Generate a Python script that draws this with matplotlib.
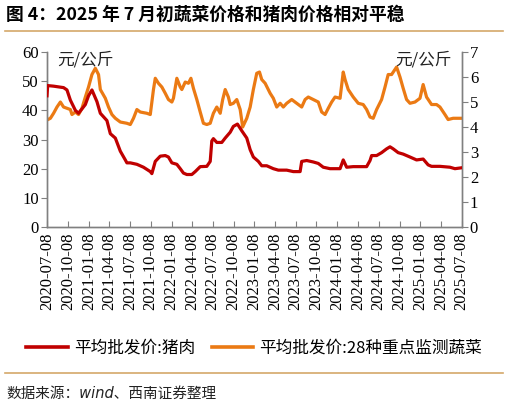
import matplotlib
matplotlib.use("Agg")
import matplotlib.pyplot as plt
import matplotlib.dates as mdates
import pandas as pd
from matplotlib.lines import Line2D

plt.rcParams['font.family'] = ['Liberation Serif', 'Noto Sans CJK SC', 'DejaVu Sans']

title = "图 4：2025 年 7 月初蔬菜价格和猪肉价格相对平稳"
source = "数据来源：wind、西南证券整理"
unit = "元/公斤"
pork_label = "平均批发价:猪肉"
veg_label = "平均批发价:28种重点监测蔬菜"

pork_dates = ["2020-07-08", "2020-07-11", "2020-08-06", "2020-09-19", "2020-10-04", "2020-10-19",
              "2020-11-10", "2020-11-24", "2020-12-09", "2020-12-24", "2021-01-07", "2021-01-22",
              "2021-02-13", "2021-02-28", "2021-03-29", "2021-04-13", "2021-05-05", "2021-05-27",
              "2021-06-18", "2021-06-25", "2021-07-10", "2021-08-08", "2021-09-06", "2021-10-06",
              "2021-10-13", "2021-10-28", "2021-11-19", "2021-12-11", "2021-12-25", "2022-01-09",
              "2022-01-31", "2022-02-15", "2022-03-01", "2022-03-16", "2022-04-07", "2022-04-22",
              "2022-05-14", "2022-06-12", "2022-06-27", "2022-07-04", "2022-07-11", "2022-07-26",
              "2022-08-17", "2022-09-01", "2022-09-23", "2022-10-07", "2022-10-25", "2022-11-13",
              "2022-12-05", "2022-12-20", "2023-01-03", "2023-01-25", "2023-02-09", "2023-03-03",
              "2023-04-01", "2023-04-23", "2023-05-30", "2023-06-28", "2023-07-28", "2023-08-04",
              "2023-08-26", "2023-09-24", "2023-10-16", "2023-11-07", "2023-12-07", "2024-01-20",
              "2024-02-03", "2024-02-18", "2024-03-18", "2024-05-16", "2024-05-31", "2024-06-07",
              "2024-06-29", "2024-07-21", "2024-08-12", "2024-08-27", "2024-09-10", "2024-10-02",
              "2024-10-24", "2024-11-23", "2024-12-22", "2025-01-20", "2025-02-11", "2025-02-26",
              "2025-04-04", "2025-05-18", "2025-06-09", "2025-07-08"]
pork_values = [45, 48.5, 48.3, 47.8, 47, 43.5,
               40, 39, 40.5, 42, 45, 47,
               43, 39, 36.5, 32, 30.5, 26,
               23, 22, 22, 21.5, 20.5, 19,
               18.3, 22.5, 24.3, 24.5, 24, 22,
               21.5, 20, 18.5, 18, 18, 19,
               20.7, 20.8, 22.5, 29.5, 30.3, 29,
               29, 30.5, 32.5, 34.5, 35.3, 33,
               30.5, 26.5, 24, 22.5, 21, 21,
               20, 19.5, 19.5, 19, 19, 22.5,
               22.8, 22.3, 21.8, 20.5, 20, 20,
               23, 20.5, 20.7, 20.7, 22.8, 24.5,
               24.5, 25.5, 26.8, 27.5, 26.8, 25.5,
               25, 24, 23, 23.3, 21.3, 20.8,
               20.8, 20.5, 20, 20.3]

veg_dates = ["2020-07-08", "2020-07-23", "2020-08-06", "2020-08-21", "2020-09-05", "2020-09-19",
             "2020-10-04", "2020-10-19", "2020-10-26", "2020-11-10", "2020-11-24", "2020-12-09",
             "2020-12-24", "2021-01-07", "2021-01-22", "2021-02-06", "2021-02-20", "2021-02-28",
             "2021-03-22", "2021-04-05", "2021-04-20", "2021-05-05", "2021-05-27", "2021-06-25",
             "2021-07-10", "2021-07-24", "2021-08-08", "2021-08-23", "2021-09-21", "2021-10-06",
             "2021-10-20", "2021-10-28", "2021-11-11", "2021-11-26", "2021-12-11", "2021-12-25",
             "2022-01-09", "2022-01-16", "2022-01-31", "2022-02-15", "2022-02-22", "2022-03-09",
             "2022-03-23", "2022-04-03", "2022-04-14", "2022-04-29", "2022-05-14", "2022-05-28",
             "2022-06-12", "2022-06-27", "2022-07-11", "2022-07-26", "2022-08-10", "2022-08-21",
             "2022-09-01", "2022-09-15", "2022-09-23", "2022-10-07", "2022-10-22", "2022-11-06",
             "2022-11-17", "2022-12-05", "2022-12-20", "2023-01-03", "2023-01-18", "2023-01-30",
             "2023-02-09", "2023-02-24", "2023-03-18", "2023-04-01", "2023-04-16", "2023-05-01",
             "2023-05-15", "2023-05-30", "2023-06-21", "2023-07-13", "2023-08-04", "2023-08-19",
             "2023-09-02", "2023-09-24", "2023-10-16", "2023-10-31", "2023-11-15", "2023-11-29",
             "2023-12-14", "2023-12-29", "2024-01-20", "2024-02-03", "2024-02-11", "2024-02-25",
             "2024-03-18", "2024-04-09", "2024-05-01", "2024-05-16", "2024-05-31", "2024-06-14",
             "2024-06-29", "2024-07-21", "2024-08-05", "2024-08-19", "2024-09-03", "2024-09-25",
             "2024-10-10", "2024-10-24", "2024-11-08", "2024-11-23", "2024-12-15", "2025-01-06",
             "2025-01-20", "2025-02-04", "2025-02-26", "2025-03-20", "2025-04-04", "2025-04-26",
             "2025-05-10", "2025-06-01", "2025-07-08"]
veg_values = [4.28, 4.35, 4.55, 4.8, 5.0, 4.8,
              4.75, 4.7, 4.5, 4.6, 4.5, 4.75,
              5.2, 5.6, 6.1, 6.35, 6.1, 5.5,
              5.15, 4.8, 4.5, 4.35, 4.2, 4.15,
              4.1, 4.35, 4.7, 4.6, 4.55, 4.5,
              5.5, 5.95, 5.75, 5.6, 5.35, 5.1,
              5.0, 5.15, 5.95, 5.6, 5.5, 5.8,
              5.75, 5.95, 5.55, 5.1, 4.6, 4.15,
              4.1, 4.15, 4.55, 4.8, 4.55, 5.1,
              5.5, 5.2, 4.9, 4.95, 5.1, 4.7,
              4.0, 4.35, 4.8, 5.5, 6.15, 6.2,
              5.9, 5.75, 5.35, 5.15, 4.8, 4.95,
              4.8, 4.95, 5.1, 4.95, 4.8, 5.1,
              5.2, 5.1, 5.0, 4.6, 4.5, 4.75,
              5.0, 5.2, 5.15, 6.2, 5.9, 5.5,
              5.2, 4.95, 4.9, 4.7, 4.4, 4.35,
              4.7, 5.1, 5.6, 6.1, 6.1, 6.4,
              6.0, 5.55, 5.1, 4.95, 5.0, 5.15,
              5.7, 5.2, 4.9, 4.9, 4.8, 4.5,
              4.3, 4.35, 4.35]

tick_dates = pd.date_range("2020-07-01", "2025-07-01", freq="3MS") + pd.Timedelta(days=7)
left_ticks = [0, 10, 20, 30, 40, 50, 60]
right_ticks = [0, 1, 2, 3, 4, 5, 6, 7]

RED = "#C00000"
ORANGE = "#EB7A14"
GREY = "#808080"
TAN = "#D4A86A"
SERIF = ["Liberation Serif", "DejaVu Serif"]
CJK = ["Noto Sans CJK SC", "DejaVu Sans"]

fig = plt.figure(figsize=(5.08, 4.05), dpi=100)
ax = fig.add_axes([0.0925, 0.4395, 0.816, 0.432])
ax2 = ax.twinx()

pd_pork = pd.to_datetime(pork_dates)
pd_veg = pd.to_datetime(veg_dates)
ax.plot(pd_pork, pork_values, color=RED, lw=2.3, zorder=3)
ax2.plot(pd_veg, veg_values, color=ORANGE, lw=2.3, zorder=2)
ax.set_zorder(ax2.get_zorder() + 1)
ax.patch.set_visible(False)

ax.set_xlim(pd.Timestamp("2020-07-08"), pd.Timestamp("2025-07-08"))
ax.set_ylim(0, 60)
ax2.set_ylim(0, 7)
ax.set_yticks(left_ticks)
ax2.set_yticks(right_ticks)
ax.set_xticks(tick_dates)
ax.xaxis.set_major_formatter(mdates.DateFormatter("%Y-%m-%d"))

for a in (ax, ax2):
    a.spines["top"].set_visible(False)
    for s in ("left", "right", "bottom"):
        a.spines[s].set_color(GREY)
        a.spines[s].set_linewidth(1.0)
ax.tick_params(axis="y", direction="out", length=4, color=GREY, pad=2)
ax2.tick_params(axis="y", direction="out", length=4, color=GREY, pad=2)
ax.tick_params(axis="x", direction="in", length=4, color=GREY, pad=4)
for lab in ax.get_yticklabels() + ax2.get_yticklabels():
    lab.set_family(SERIF)
    lab.set_fontsize(12)
for lab in ax.get_xticklabels():
    lab.set_family(SERIF)
    lab.set_fontsize(12)
    lab.set_rotation(90)

ax.text(0.025, 0.955, unit, transform=ax.transAxes, fontsize=12, ha="left", va="center",
        family=CJK, color="#222222")
ax2.text(0.975, 0.955, unit, transform=ax.transAxes, fontsize=12, ha="right", va="center",
         family=CJK, color="#222222")

fig.text(0.012, 0.963, title, fontsize=12.8, fontweight="bold", ha="left", va="center",
         family=CJK)
fig.add_artist(Line2D([0.01, 0.99], [0.924, 0.924], color=TAN, lw=1.2))
fig.add_artist(Line2D([0.01, 0.99], [0.079, 0.079], color=TAN, lw=1.2))
fig.text(0.012, 0.030, source, fontsize=10.5, style="italic", ha="left", va="center",
         family=["DejaVu Sans", "Noto Sans CJK SC"], color="#222222")

handles = [Line2D([], [], color=RED, lw=2.6), Line2D([], [], color=ORANGE, lw=2.6)]
leg = fig.legend(handles, [pork_label, veg_label], loc="center", bbox_to_anchor=(0.5, 0.141),
                 ncol=2, frameon=False, handlelength=2.5, columnspacing=1.0, handletextpad=0.35,
                 prop={"family": CJK, "size": 12})

fig.savefig("out.png", dpi=100)
